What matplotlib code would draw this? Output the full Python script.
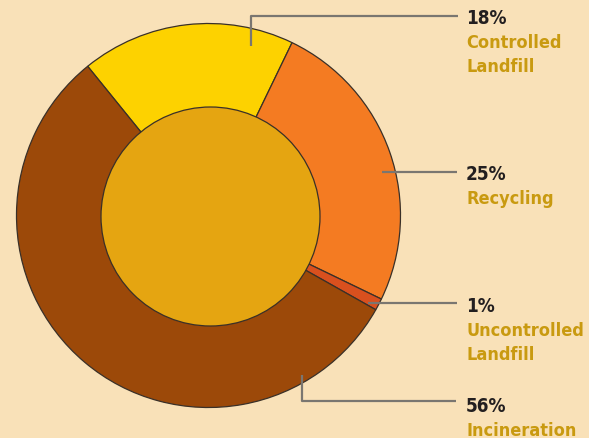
import matplotlib
matplotlib.use("Agg")
import matplotlib.pyplot as plt
from matplotlib.patches import Circle

labels = ["Controlled\nLandfill", "Recycling", "Uncontrolled\nLandfill", "Incineration"]
shares = [18, 25, 1, 56]
colors = ["#FDD200", "#F47B22", "#D9501E", "#9C4909"]

W, H = 589, 439
bg = "#F9E1B8"

def py(y):
    # pixel row (from top) -> data y
    return H - y

fig = plt.figure(figsize=(W / 100, H / 100), dpi=100, facecolor=bg)
ax = fig.add_axes([0, 0, 1, 1])
ax.set_facecolor(bg)

cx, cy = 208.5, py(216.5)
ax.pie(shares, colors=colors, startangle=129, counterclock=False,
       center=(cx, cy), radius=192,
       wedgeprops=dict(edgecolor="#3a3028", linewidth=0.9))
ax.add_patch(Circle((210.5, py(217.5)), 109.5, facecolor="#E5A511",
                    edgecolor="#3a3028", linewidth=0.9, zorder=3))

ax.set_xlim(0, W)
ax.set_ylim(0, H)
ax.set_aspect("auto")
ax.axis("off")

# leader lines (pixel coords)
leaders = [
    [(250.7, 46.7), (250.7, 16.7), (457.7, 16.7)],
    [(381.7, 172.7), (456.7, 172.7)],
    [(367.7, 304.3), (457.3, 304.3)],
    [(301.7, 376), (301.7, 402), (456, 402)],
]
for pts in leaders:
    ax.plot([p[0] for p in pts], [py(p[1]) for p in pts], color="#7a7670",
            linewidth=1.6, solid_capstyle="butt", zorder=4)

fam = ["DejaVu Sans"]
fs = 13.0
text_x = 466
base_y = [24, 179.5, 311.7, 411.7]
for lab, s, by in zip(labels, shares, base_y):
    ax.text(text_x, py(by), f"{s}%", fontsize=fs + 0.6, fontweight="bold",
            fontstretch="condensed", family=fam, color="#231F20",
            va="baseline", ha="left")
    for i, line in enumerate(lab.split("\n")):
        ax.text(text_x, py(by + 24 * (i + 1)), line, fontsize=fs,
                fontweight="bold", fontstretch="condensed", family=fam,
                color="#C99A10", va="baseline", ha="left")

fig.savefig("out.png", dpi=100, facecolor=bg)
